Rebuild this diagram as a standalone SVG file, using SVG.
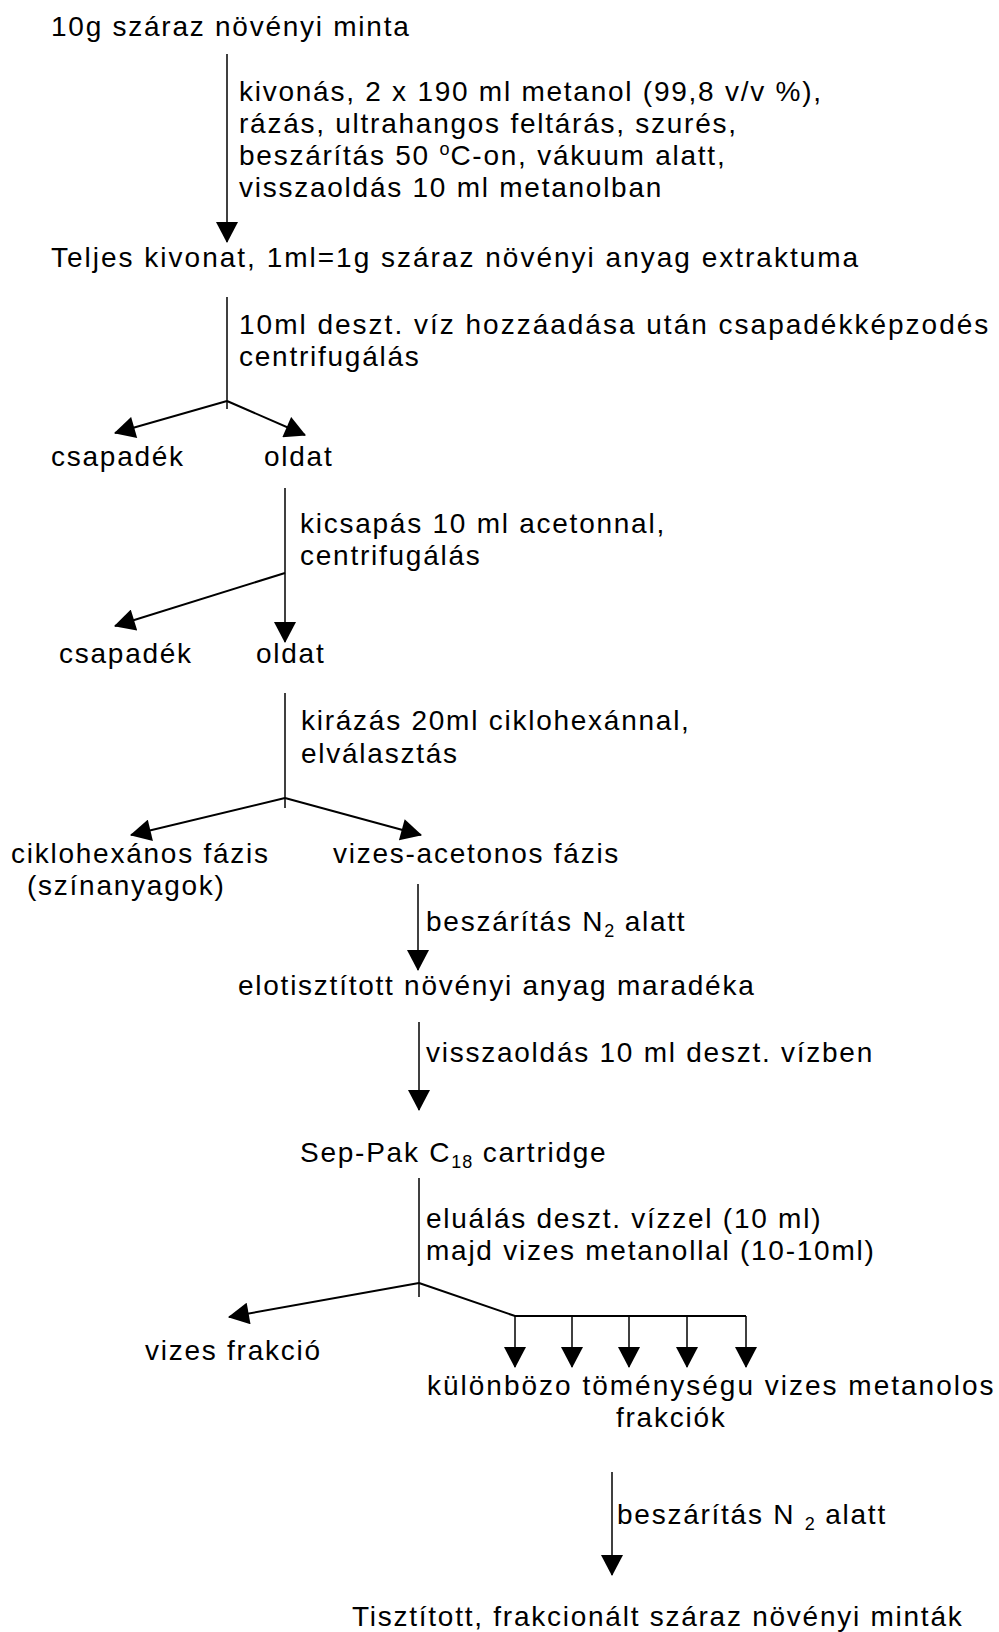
<svg xmlns="http://www.w3.org/2000/svg" width="999" height="1632" viewBox="0 0 999 1632">
<style>
text{font-family:"Liberation Sans",Arial,sans-serif;font-size:28px;letter-spacing:1.75px;fill:#000}
text.w{letter-spacing:2px}
.sub{font-size:18px;letter-spacing:1px}
.ln{stroke:#000;stroke-width:1.5;fill:none}
.br{stroke:#000;stroke-width:2;fill:none}
</style>
<defs>
<marker id="ah" markerUnits="userSpaceOnUse" markerWidth="22" markerHeight="22" refX="19" refY="10.5" orient="auto" viewBox="0 0 20 21">
<path d="M0,0 L20,10.5 L0,21 z" fill="#000"/>
</marker>
</defs>
<rect width="999" height="1632" fill="#fff"/>
<g id="connectors">
<line class="ln" x1="227" y1="54" x2="227" y2="242" marker-end="url(#ah)"/>
<line class="ln" x1="227" y1="297" x2="227" y2="409"/>
<line class="br" x1="227" y1="401" x2="115" y2="433" marker-end="url(#ah)"/>
<line class="br" x1="227" y1="401" x2="305" y2="435" marker-end="url(#ah)"/>
<line class="ln" x1="285" y1="488" x2="285" y2="642" marker-end="url(#ah)"/>
<line class="br" x1="285" y1="573" x2="115" y2="626" marker-end="url(#ah)"/>
<line class="ln" x1="285" y1="693" x2="285" y2="808"/>
<line class="br" x1="285" y1="798" x2="131" y2="835" marker-end="url(#ah)"/>
<line class="br" x1="285" y1="798" x2="421" y2="835" marker-end="url(#ah)"/>
<line class="ln" x1="418" y1="884" x2="418" y2="970" marker-end="url(#ah)"/>
<line class="ln" x1="419" y1="1022" x2="419" y2="1110" marker-end="url(#ah)"/>
<line class="ln" x1="419" y1="1178" x2="419" y2="1297"/>
<line class="br" x1="419" y1="1283" x2="229" y2="1317" marker-end="url(#ah)"/>
<polyline class="br" points="419,1283 515,1316 746,1316"/>
<line class="ln" x1="515" y1="1316" x2="515" y2="1367" marker-end="url(#ah)"/>
<line class="ln" x1="572" y1="1316" x2="572" y2="1367" marker-end="url(#ah)"/>
<line class="ln" x1="629" y1="1316" x2="629" y2="1367" marker-end="url(#ah)"/>
<line class="ln" x1="687" y1="1316" x2="687" y2="1367" marker-end="url(#ah)"/>
<line class="ln" x1="746" y1="1316" x2="746" y2="1367" marker-end="url(#ah)"/>
<line class="ln" x1="612" y1="1472" x2="612" y2="1575" marker-end="url(#ah)"/>
</g>
<g id="label1">
<text x="239" y="101">kivonás, 2 x 190 ml metanol (99,8 v/v %),</text>
<text x="239" y="133">rázás, ultrahangos feltárás, szurés,</text>
<text x="239" y="165">beszárítás 50 <tspan class="sub" dy="-10">o</tspan><tspan dy="10">C-on, vákuum alatt,</tspan></text>
<text x="239" y="197">visszaoldás 10 ml metanolban</text>
</g>
<g id="label2">
<text class="w" x="239" y="334">10ml deszt. víz hozzáadása után csapadékképzodés</text>
<text x="239" y="366">centrifugálás</text>
</g>
<g id="label3">
<text x="300" y="533">kicsapás 10 ml acetonnal,</text>
<text x="300" y="565">centrifugálás</text>
</g>
<g id="label4">
<text x="301" y="730">kirázás 20ml ciklohexánnal,</text>
<text x="301" y="763">elválasztás</text>
</g>
<g id="label5"><text x="426" y="931">beszárítás N<tspan class="sub" dy="6">2</tspan><tspan dy="-6"> alatt</tspan></text></g>
<g id="label6"><text x="426" y="1062">visszaoldás 10 ml deszt. vízben</text></g>
<g id="label7">
<text x="426" y="1228">eluálás deszt. vízzel (10 ml)</text>
<text x="426" y="1260">majd vizes metanollal (10-10ml)</text>
</g>
<g id="label8"><text x="617" y="1524">beszárítás N <tspan class="sub" dy="6">2</tspan><tspan dy="-6"> alatt</tspan></text></g>
<g id="n1"><text x="51" y="36">10g száraz növényi minta</text></g>
<g id="n2"><text class="w" x="51" y="267">Teljes kivonat, 1ml=1g száraz növényi anyag extraktuma</text></g>
<g id="n3"><text x="51" y="466">csapadék</text></g>
<g id="n4"><text x="264" y="466">oldat</text></g>
<g id="n5"><text x="59" y="663">csapadék</text></g>
<g id="n6"><text x="256" y="663">oldat</text></g>
<g id="n7">
<text x="11" y="863">ciklohexános fázis</text>
<text x="27" y="895">(színanyagok)</text>
</g>
<g id="n8"><text x="333" y="863">vizes-acetonos fázis</text></g>
<g id="n9"><text x="238" y="995">elotisztított növényi anyag maradéka</text></g>
<g id="n10"><text x="300" y="1162">Sep-Pak C<tspan class="sub" dy="6">18</tspan><tspan dy="-6"> cartridge</tspan></text></g>
<g id="n11"><text x="145" y="1360">vizes frakció</text></g>
<g id="n12">
<text class="w" x="427" y="1395">különbözo töménységu vizes metanolos</text>
<text x="616" y="1427">frakciók</text>
</g>
<g id="n13"><text x="352" y="1626">Tisztított, frakcionált száraz növényi minták</text></g>
</svg>
